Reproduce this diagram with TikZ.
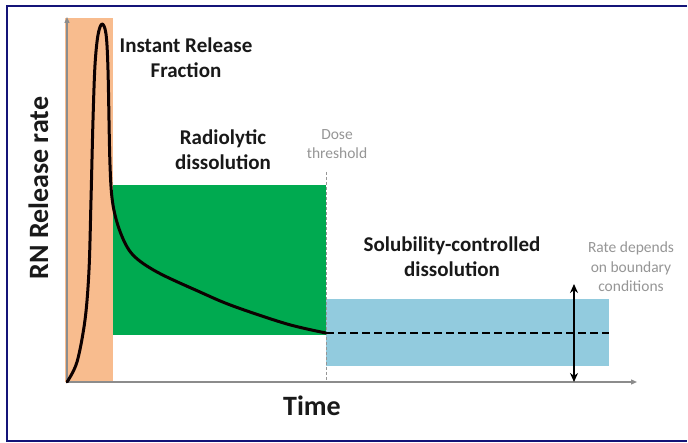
\documentclass[tikz,border=0pt]{standalone}
\usepackage{fontspec}
\setmainfont{Carlito}
\usetikzlibrary{arrows.meta}
\definecolor{frameblue}{RGB}{20,20,120}
\definecolor{irfband}{RGB}{248,188,142}
\definecolor{radgreen}{RGB}{0,170,80}
\definecolor{solblue}{RGB}{146,203,222}
\definecolor{axisgrey}{RGB}{140,140,140}
\definecolor{notegrey}{RGB}{150,150,150}
\tikzset{
  boldlabel/.style={font=\fontsize{21}{25}\selectfont\bfseries, align=center, text=black!90, inner sep=0pt},
  notelabel/.style={font=\fontsize{15.5}{19.5}\selectfont, align=center, text=notegrey, inner sep=0pt},
  axislabel/.style={font=\fontsize{28}{32}\selectfont\bfseries, text=black!90, inner sep=0pt},
  axisline/.style={draw=axisgrey, line width=1.3pt, -{Triangle[length=6pt,width=5pt]}},
  curveline/.style={line width=3pt, draw=black!95!red, line cap=round, line join=round},
  levelline/.style={line width=2.6pt, draw=black, dash pattern=on 8pt off 4pt},
  thresholdline/.style={draw=notegrey, line width=1pt, dash pattern=on 3pt off 2pt},
  rangearrow/.style={line width=2pt, draw=black, {Stealth[length=9pt,width=8pt]}-{Stealth[length=9pt,width=8pt]}},
  frameline/.style={draw=frameblue, line width=2.5pt}
}
\begin{document}
\begin{tikzpicture}[x=1pt,y=-1pt]
\useasboundingbox (0,0) rectangle (688,443);
\fill[white] (0,0) rectangle (688,443);
% frame (left, top and bottom sides only)
\draw[frameline] (687,6) -- (7,6) -- (7,441) -- (687,441);
% regions
\fill[irfband] (65,18) rectangle (113,382);
\fill[radgreen] (113,185) rectangle (326,335);
\fill[solblue] (326,299) rectangle (609,366);
% axes
\coordinate (origin) at (67,382);
\coordinate (ytop) at (67,17);
\coordinate (xend) at (637,382);
\draw[axisline] (origin) -- (ytop);
\draw[axisline] (origin) -- (xend);
% threshold
\coordinate (thtop) at (326,172);
\coordinate (thbot) at (326,382);
\draw[thresholdline] (thtop) -- (thbot);
% level line
\coordinate (lvlA) at (326,333);
\coordinate (lvlB) at (609,333);
\draw[levelline] (lvlA) -- (lvlB);
% curve
\draw[curveline] plot[smooth, tension=0.55] coordinates {
 (67,382) (77,362) (85,320) (89,270) (91,200) (93,120) (95,65) (98,35) (102,24) (106,34) (108,70) (110,165) (113,205) (121,234) (133,255) (157,272) (200,292) (233,306) (287,324) (326,333)};
% range arrow
\coordinate (rngtop) at (574,284);
\coordinate (rngbot) at (574,382);
\draw[rangearrow] (rngbot) -- (rngtop);
% labels
\node[boldlabel] (irf) at (186,57.5) {Instant Release\\Fraction};
\node[boldlabel] (rad) at (223,150) {Radiolytic\\dissolution};
\node[notelabel] (dose) at (337,144) {Dose\\threshold};
\node[boldlabel] (sol) at (452,256.5) {Solubility-controlled\\dissolution};
\node[notelabel] (rate) at (631,267) {Rate depends\\on boundary\\conditions};
\node[axislabel, anchor=base] (time) at (312,415) {Time};
\node[axislabel, anchor=base, rotate=90] (rn) at (48,188) {RN Release rate};
\end{tikzpicture}
\end{document}
